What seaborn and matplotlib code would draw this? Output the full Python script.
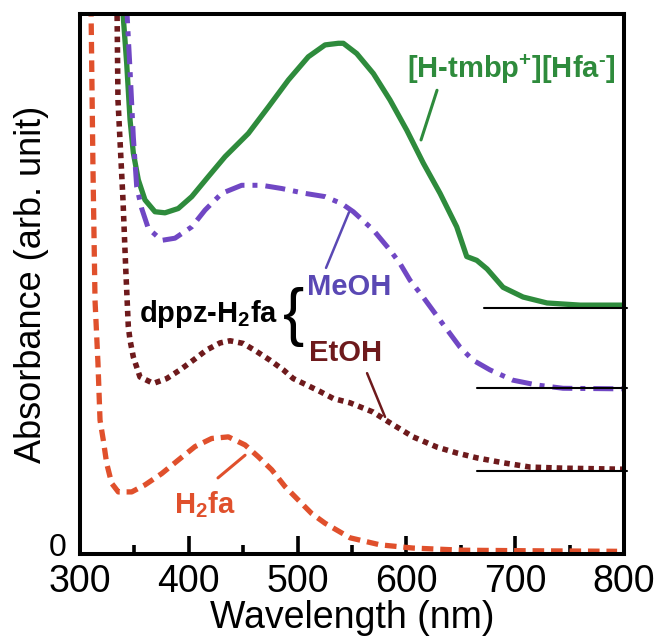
import matplotlib
matplotlib.use("Agg")
import matplotlib.pyplot as plt
import seaborn as sns
from matplotlib.ticker import MultipleLocator

sns.set_style("ticks")
plt.rcParams["font.family"] = ["Liberation Sans", "DejaVu Sans"]
plt.rcParams["mathtext.fontset"] = "custom"
plt.rcParams["mathtext.rm"] = "Liberation Sans:bold"
plt.rcParams["mathtext.bf"] = "Liberation Sans:bold"
plt.rcParams["text.color"] = "black"
plt.rcParams["xtick.color"] = "black"
plt.rcParams["ytick.color"] = "black"
plt.rcParams["axes.labelcolor"] = "black"

# [H-tmbp+][Hfa-]
wl_tmbp = [338.6, 339.5, 342.9, 346.0, 349.0, 353.6, 359.7, 368.9, 378.1, 390.3,
           402.7, 417.9, 433.3, 454.7, 473.1, 491.5, 509.8, 525.2, 537.4, 542.0,
           554.3, 569.6, 584.9, 600.3, 615.5, 630.9, 646.2, 655.4, 664.6, 674.1,
           688.8, 707.2, 729.2, 759.6, 799.1]
abs_tmbp = [1.02, 1.002, 0.909, 0.804, 0.743, 0.693, 0.656, 0.634, 0.632, 0.640,
            0.662, 0.699, 0.736, 0.779, 0.828, 0.878, 0.921, 0.943, 0.946, 0.946,
            0.927, 0.890, 0.841, 0.785, 0.724, 0.668, 0.606, 0.551, 0.544, 0.528,
            0.494, 0.476, 0.465, 0.461, 0.461]

# dppz-H2fa in MeOH
wl_meoh = [342.3, 343.2, 346.0, 349.0, 352.1, 356.7, 362.8, 375.1, 387.3, 402.7,
           414.9, 430.2, 448.6, 467.0, 485.4, 506.8, 525.2, 540.5, 551.2, 569.6,
           584.9, 594.1, 603.3, 615.3, 630.9, 649.3, 661.2, 676.8, 697.8, 720.0,
           743.9, 793.6, 800.0]
abs_meoh = [1.02, 1.002, 0.896, 0.773, 0.680, 0.640, 0.603, 0.581, 0.585, 0.606,
            0.637, 0.668, 0.683, 0.683, 0.677, 0.668, 0.662, 0.649, 0.634, 0.600,
            0.563, 0.538, 0.507, 0.476, 0.433, 0.383, 0.359, 0.341, 0.322, 0.313,
            0.307, 0.306, 0.306]

# dppz-H2fa in EtOH
wl_etoh = [334.0, 334.9, 339.5, 342.0, 344.4, 346.0, 349.0, 355.1, 367.4, 379.7,
           391.9, 404.1, 416.4, 428.7, 437.9, 450.1, 462.4, 474.6, 486.9, 496.0,
           508.4, 520.6, 532.8, 548.2, 569.3, 584.9, 606.1, 628.1, 646.5, 664.9,
           688.8, 713.6, 743.9, 800.0]
abs_etoh = [1.017, 0.841, 0.656, 0.530, 0.421, 0.396, 0.365, 0.328, 0.316, 0.325,
            0.341, 0.359, 0.378, 0.391, 0.395, 0.390, 0.375, 0.359, 0.341, 0.325,
            0.313, 0.301, 0.288, 0.280, 0.263, 0.243, 0.217, 0.198, 0.187, 0.178,
            0.169, 0.161, 0.159, 0.157]

# H2fa
wl_h2fa = [310.1, 311.9, 313.8, 316.5, 318.4, 321.4, 324.5, 329.1, 335.2, 347.5,
           359.7, 375.1, 390.3, 405.7, 421.0, 436.3, 451.7, 463.9, 476.2, 488.4,
           500.6, 512.9, 525.2, 548.2, 575.7, 606.1, 652.0, 713.6, 793.6]
abs_h2fa = [1.017, 0.717, 0.470, 0.354, 0.248, 0.211, 0.168, 0.131, 0.115, 0.115,
            0.128, 0.149, 0.174, 0.199, 0.214, 0.217, 0.202, 0.180, 0.156, 0.125,
            0.100, 0.075, 0.057, 0.030, 0.017, 0.011, 0.007, 0.006, 0.005]

# baselines (start wavelength, level)
base_start = [671.6, 665.0, 665.0]
base_level = [0.456, 0.308, 0.153]

c_green = "#2e8b3c"
c_purple = "#7047c4"
c_maroon = "#6e1a1c"
c_orange = "#e0502c"

fig = plt.figure(figsize=(6.59, 6.43), dpi=100)
ax = fig.add_axes([0.1214, 0.1384, 0.8256, 0.8396])

sns.lineplot(x=wl_tmbp, y=abs_tmbp, color=c_green, lw=3.8, ax=ax, sort=False)
sns.lineplot(x=wl_meoh, y=abs_meoh, color=c_purple, lw=3.6, ax=ax, sort=False,
             linestyle=(0, (4, 1.6, 1, 1.6)))
sns.lineplot(x=wl_etoh, y=abs_etoh, color=c_maroon, lw=4.0, ax=ax, sort=False,
             linestyle=(0, (1, 0.9)))
sns.lineplot(x=wl_h2fa, y=abs_h2fa, color=c_orange, lw=3.8, ax=ax, sort=False,
             linestyle=(0, (2.2, 1.3)))

for s, lv in zip(base_start, base_level):
    ax.plot([s, 803], [lv, lv], color="black", lw=1.5, clip_on=False, zorder=5)

ax.set_xlim(300, 800)
ax.set_ylim(0, 1)
ax.xaxis.set_major_locator(MultipleLocator(100))
ax.xaxis.set_minor_locator(MultipleLocator(50))
ax.set_yticks([])
ax.tick_params(axis="x", which="major", direction="in", length=13, width=2.6,
               labelsize=27, pad=7, top=False, bottom=True, color="black")
ax.tick_params(axis="x", which="minor", direction="in", length=6.5, width=2.6,
               top=False, bottom=True, color="black")
for sp in ax.spines.values():
    sp.set_linewidth(2.9)
    sp.set_color("black")

# "0" at the bottom of the y axis
ax.text(-0.024, 0.012, "0", fontsize=23, ha="right", va="center",
        transform=ax.get_yaxis_transform())

ax.set_xlabel("Wavelength (nm)", fontsize=27, labelpad=0)
ax.set_ylabel("Absorbance (arb. unit)", fontsize=26)
ax.yaxis.set_label_coords(-0.057, 0.5)

tkw = dict(fontsize=21, fontweight="bold")
ax.text(696, 0.898, r"[H-tmbp$^{+}$][Hfa$^{\text{-}}$]", color=c_green,
        ha="center", va="center", **tkw)
ax.plot([628.1, 613.4], [0.859, 0.767], color=c_green, lw=2.2)

ax.text(547.2, 0.494, "MeOH", color="#5a48b4", ha="center", va="center", **tkw)
ax.plot([547.2, 526.1], [0.633, 0.530], color="#5a48b4", lw=1.8)

ax.text(482, 0.430, r"dppz-H$_{2}$fa", color="black", ha="right",
        va="baseline", **tkw)
ax.text(496.7, 0.439, "{", color="black", fontsize=46, ha="center", va="center")

ax.text(544.5, 0.372, "EtOH", color=c_maroon, ha="center", va="center", **tkw)
ax.plot([563.8, 580.3], [0.335, 0.254], color=c_maroon, lw=1.8)

ax.text(414.9, 0.076, r"H$_{2}$fa", color=c_orange, ha="center",
        va="baseline", **tkw)
ax.plot([426.8, 451.7], [0.141, 0.183], color=c_orange, lw=2.2)

fig.savefig("out.png", dpi=100)
